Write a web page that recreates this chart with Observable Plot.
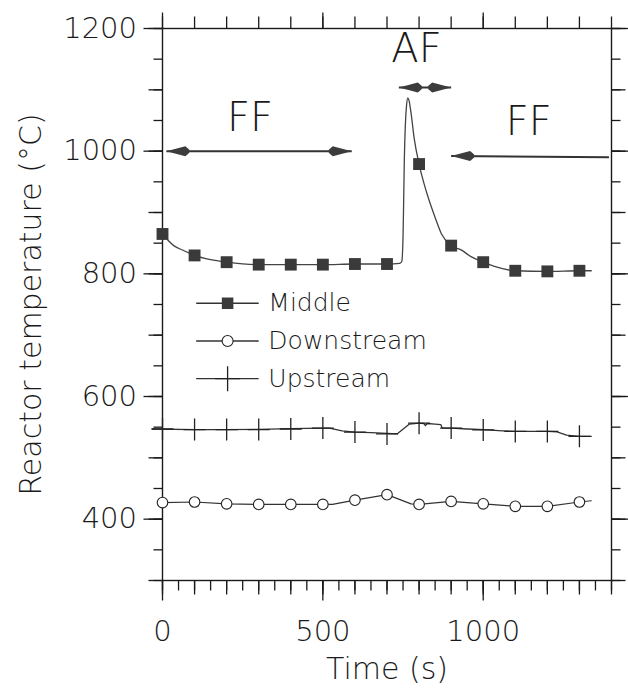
<!DOCTYPE html>
<html>
<head>
<meta charset="utf-8">
<script src="https://cdn.jsdelivr.net/npm/d3@7"></script>
<script src="https://cdn.jsdelivr.net/npm/@observablehq/plot@0.6"></script>
<style>
  html, body { margin: 0; padding: 0; background: #fff; }
</style>
</head>
<body>
<div id="chart"></div>
<script>
// ---- Data ----
// Middle (thermocouple) continuous trace
const middleT = [0, 35, 66, 100, 150, 200, 300, 400, 500, 600, 700, 740, 746, 750, 752, 754, 757, 761, 765, 769, 775, 785, 800, 815, 830, 850, 870, 900, 931, 962, 1000, 1035, 1100, 1200, 1300, 1337];
const middleV = [865, 846, 838, 830, 823, 819, 815, 815, 815, 816, 816, 817, 820, 860, 920, 985, 1040, 1075, 1087, 1082, 1062, 1020, 979, 948, 922, 892, 865, 846, 839, 828, 819, 812, 805, 804, 805, 805];
// Marker times (every 100 s)
const markerT = [0, 100, 200, 300, 400, 500, 600, 700, 800, 900, 1000, 1100, 1200, 1300];
const middleM = [865, 830, 819, 815, 815, 815, 816, 816, 979, 846, 819, 805, 804, 805];

// Downstream trace
const downT = [0, 100, 200, 300, 400, 500, 530, 600, 700, 775, 800, 900, 1000, 1100, 1200, 1300, 1337];
const downV = [427, 428, 425, 424, 424, 424, 424, 431, 440, 425, 424, 429, 425, 421, 421, 428, 430];
const downM = [427, 428, 425, 424, 424, 424, 431, 440, 424, 429, 425, 421, 421, 428];

// Upstream trace
const upT = [-32, 100, 200, 300, 400, 500, 520, 560, 600, 650, 733, 736, 770, 800, 815, 820, 825, 850, 868, 872, 900, 950, 1000, 1060, 1100, 1200, 1230, 1260, 1300, 1337];
const upV = [547, 546, 546, 546.5, 547.5, 548.5, 548.5, 544, 542, 541, 539, 541, 555, 556.5, 556, 552.5, 556, 555, 554, 549, 548.5, 547, 546, 544, 543, 543, 542.5, 537, 535, 535];
const upM = [547, 546, 546, 546, 547, 548.5, 542, 539, 556.5, 548.5, 545.5, 543, 543, 535];

// Axis tick labels
const xTickLabels = [0, 500, 1000];
const yTickLabels = [400, 600, 800, 1000, 1200];

// Legend entries
const legendNames = ["Middle", "Downstream", "Upstream"];

// Mode annotations (flow direction periods)
const modeLabels = [
  {text: "FF", t: 273, v: 1054},
  {text: "AF", t: 792, v: 1167},
  {text: "FF", t: 1142, v: 1047}
];
const modeArrows = [
  {t1: 12, t2: 590, v1: 1000, v2: 1000, startHead: true, endHead: true},
  {t1: 737, t2: 900, v1: 1104, v2: 1104, startHead: true, endHead: true},
  {t1: 900, t2: 1392, v1: 992, v2: 990, startHead: true, endHead: false}
];

// ---- Build tables ----
const middleLine = middleT.map((t, i) => ({t, v: middleV[i]}));
const downLine = downT.map((t, i) => ({t, v: downV[i]}));
const upLine = upT.map((t, i) => ({t, v: upV[i]}));
const middlePts = markerT.map((t, i) => ({t, v: middleM[i]}));
const downPts = markerT.map((t, i) => ({t, v: downM[i]}));
const upPts = markerT.map((t, i) => ({t, v: upM[i]}));

const leftHeads = modeArrows.filter(a => a.startHead).map(a => ({t: a.t1, v: a.v1}));
const rightHeads = modeArrows.filter(a => a.endHead).map(a => ({t: a.t2, v: a.v2}));

// custom symbols
const plusSym = (h) => ({draw(ctx) { ctx.moveTo(-h, 0); ctx.lineTo(h, 0); ctx.moveTo(0, -h); ctx.lineTo(0, h); }});
const headSym = (s) => ({draw(ctx) {
  ctx.moveTo(0, 0); ctx.lineTo(-19 * s, -5); ctx.lineTo(-23 * s, -1.5);
  ctx.lineTo(-23 * s, 1.5); ctx.lineTo(-19 * s, 5); ctx.closePath();
}});
const vTick = (len, dir) => ({draw(ctx) { ctx.moveTo(0, 0); ctx.lineTo(0, dir * len); }});
const hTick = (len, dir) => ({draw(ctx) { ctx.moveTo(0, 0); ctx.lineTo(dir * len, 0); }});

// legend geometry (data units)
const legX1 = 105, legX2 = 300, legXM = 203, legXT = 330, legTop = 752, legStep = 61.5;
const legRows = legendNames.map((name, i) => ({name, i, v: legTop - i * legStep}));

const minor50x = d3.range(0, 1401, 50);
const minor100x = d3.range(0, 1401, 100);
const minor50y = d3.range(300, 1201, 50);
const minor100y = d3.range(300, 1201, 100);

const ink = "#1a1a1a";
const FONT = "DejaVu Sans";
const tk = {fill: "none", stroke: ink, strokeWidth: 1.3};

const chart = Plot.plot({
  width: 628,
  height: 697,
  marginTop: 28,
  marginBottom: 117,
  marginLeft: 162,
  marginRight: 17,
  x: {domain: [0, 1400], axis: null},
  y: {domain: [300, 1200], axis: null},
  style: {fontFamily: FONT, fontWeight: 200, background: "#fff", color: ink},
  marks: [
    // axes ticks (outward on all four sides)
    Plot.dot(minor50x, {x: d => d, frameAnchor: "bottom", symbol: vTick(10, 1), ...tk}),
    Plot.dot(minor100x, {x: d => d, frameAnchor: "bottom", symbol: vTick(14, 1), ...tk}),
    Plot.dot(xTickLabels, {x: d => d, frameAnchor: "bottom", symbol: vTick(20, 1), ...tk}),
    Plot.dot(minor100x, {x: d => d, frameAnchor: "top", symbol: vTick(12, -1), ...tk}),
    Plot.dot(xTickLabels, {x: d => d, frameAnchor: "top", symbol: vTick(16, -1), ...tk}),
    Plot.dot(minor50y, {y: d => d, frameAnchor: "left", symbol: hTick(9, -1), ...tk}),
    Plot.dot(minor100y, {y: d => d, frameAnchor: "left", symbol: hTick(14, -1), ...tk}),
    Plot.dot(yTickLabels, {y: d => d, frameAnchor: "left", symbol: hTick(19, -1), ...tk}),
    Plot.dot(minor50y, {y: d => d, frameAnchor: "right", symbol: hTick(9, 1), ...tk}),
    Plot.dot(minor100y, {y: d => d, frameAnchor: "right", symbol: hTick(14, 1), ...tk}),
    Plot.dot(yTickLabels, {y: d => d, frameAnchor: "right", symbol: hTick(19, 1), ...tk}),
    Plot.text(xTickLabels, {x: d => d, frameAnchor: "bottom", dy: 51, lineAnchor: "middle", text: d => String(d), fontSize: 29, fill: ink}),
    Plot.text(yTickLabels, {y: d => d, frameAnchor: "left", dx: -25.5, textAnchor: "end", lineAnchor: "middle", text: d => String(d), fontSize: 29, fill: ink}),
    Plot.text(["Time (s)"], {frameAnchor: "bottom", dy: 89, lineAnchor: "middle", text: d => d, fontSize: 30, fill: ink}),
    Plot.text(["Reactor temperature (°C)"], {frameAnchor: "left", dx: -131, rotate: -90, textAnchor: "middle", lineAnchor: "middle", text: d => d, fontSize: 30, fill: ink}),
    Plot.frame({stroke: ink, strokeWidth: 1.4}),

    // series lines
    Plot.line(middleLine, {x: "t", y: "v", curve: "monotone-x", stroke: "#444", strokeWidth: 1.3}),
    Plot.line(upLine, {x: "t", y: "v", stroke: "#333", strokeWidth: 1.3}),
    Plot.line(downLine, {x: "t", y: "v", stroke: "#333", strokeWidth: 1.2}),

    // markers
    Plot.dot(middlePts, {x: "t", y: "v", symbol: "square", r: 6.7, fill: "#3a3a3a", stroke: "none"}),
    Plot.dot(downPts, {x: "t", y: "v", symbol: "circle", r: 5.3, fill: "#fff", stroke: "#222", strokeWidth: 1.1}),
    Plot.dot(upPts, {x: "t", y: "v", symbol: plusSym(11), fill: "none", stroke: "#222", strokeWidth: 1.3}),

    // annotations
    Plot.link(modeArrows, {x1: "t1", x2: "t2", y1: "v1", y2: "v2", stroke: "#333", strokeWidth: 2}),
    Plot.dot(rightHeads, {x: "t", y: "v", symbol: headSym(1), fill: "#3c3c3c", stroke: "none"}),
    Plot.dot(leftHeads, {x: "t", y: "v", symbol: headSym(-1), fill: "#3c3c3c", stroke: "none"}),
    Plot.text(modeLabels, {x: "t", y: "v", text: "text", fontSize: 40, fill: ink}),

    // legend
    Plot.link(legRows, {x1: legX1, x2: legX2, y1: "v", y2: "v", stroke: "#333", strokeWidth: 1.3}),
    Plot.dot(legRows.filter(d => d.i === 0), {x: legXM, y: "v", symbol: "square", r: 6.5, fill: "#3a3a3a", stroke: "none"}),
    Plot.dot(legRows.filter(d => d.i === 1), {x: legXM, y: "v", symbol: "circle", r: 5.5, fill: "#fff", stroke: "#222", strokeWidth: 1.1}),
    Plot.dot(legRows.filter(d => d.i === 2), {x: legXM, y: "v", symbol: plusSym(12.5), fill: "none", stroke: "#222", strokeWidth: 1.3}),
    Plot.text(legRows, {x: legXT, y: "v", text: "name", textAnchor: "start", fontSize: 25, fill: ink})
  ]
});
document.getElementById("chart").appendChild(chart);
</script>
</body>
</html>
